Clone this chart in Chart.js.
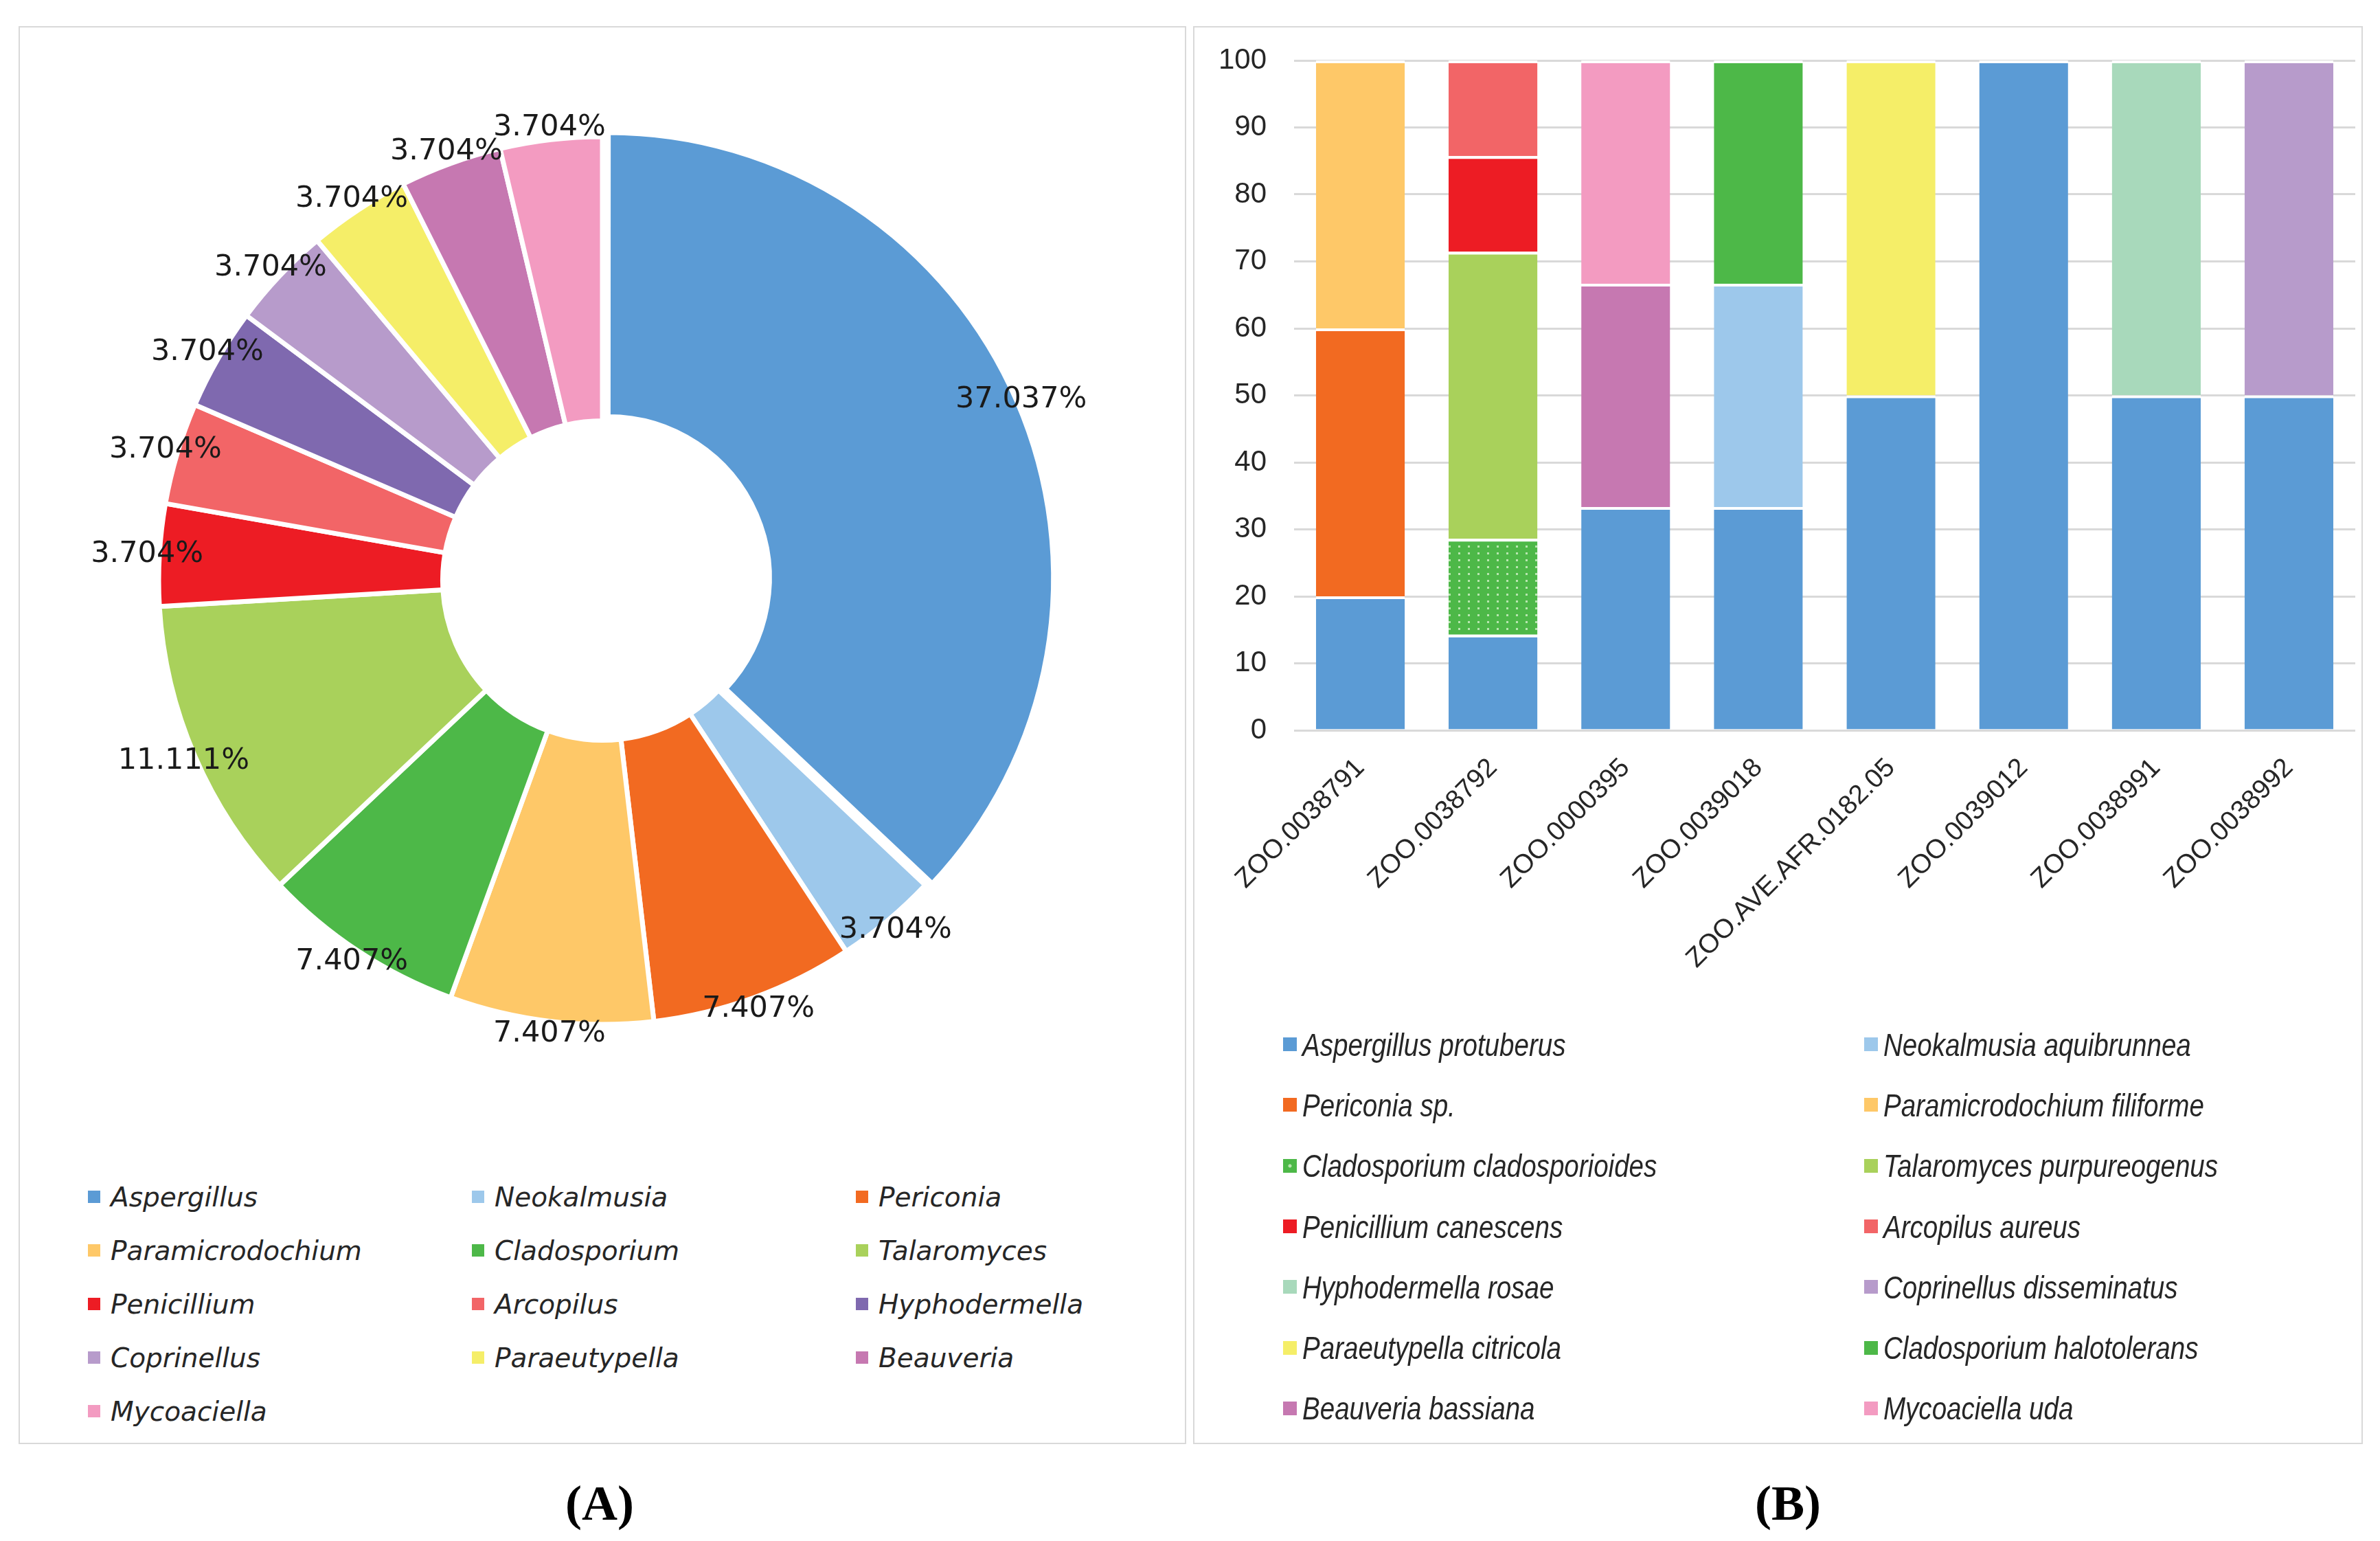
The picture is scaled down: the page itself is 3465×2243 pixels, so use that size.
<!DOCTYPE html>
<html lang="en">
<head>
  <meta charset="utf-8">
  <title>Fungal genera and species per sample</title>
  <script src="https://cdn.jsdelivr.net/npm/chart.js"></script>
  <style>
    body {
      margin: 0;
      width: 3465px;
      height: 2243px;
      background: #fff;
      position: relative;
      overflow: hidden;
      font-family: 'DejaVu Sans', sans-serif;
    }

    /* Panel frames */
    .panel {
      position: absolute;
      border: 2px solid #d9d9d9;
      box-sizing: border-box;
    }
    #panelA { left: 27px; top: 38px; width: 1700px; height: 2064px; }
    #panelB { left: 1737px; top: 38px; width: 1703px; height: 2064px; }

    canvas { position: absolute; }
    #pieChart { left: 57px; top: 65px; }
    #barChart { left: 1740px; top: 40px; }

    /* Legends */
    .legend { position: absolute; display: grid; }
    .legend .item { display: flex; align-items: center; white-space: nowrap; }
    .legend .swatch { display: inline-block; flex: none; }

    #legendA {
      left: 128px;
      top: 1703px;
      grid-template-columns: 559px 559px 559px;
      grid-auto-rows: 78px;
      font: italic 39px 'DejaVu Sans', sans-serif;
      color: #262626;
    }
    #legendA .swatch { width: 18px; height: 18px; margin-right: 15px; }

    #legendB {
      left: 1868px;
      top: 1476px;
      grid-template-columns: 846px 600px;
      grid-auto-rows: 88.3px;
      font: italic 47px 'Liberation Sans', sans-serif;
      color: #262626;
    }
    #legendB .swatch { width: 20px; height: 20px; margin-right: 8px; }
    /* the source legend uses a condensed face */
    #legendB .txt { display: inline-block; transform: scaleX(0.82); transform-origin: left center; }

    .caption {
      position: absolute;
      top: 2147px;
      line-height: 1;
      font: bold 72px 'Liberation Serif', serif;
      transform: translateX(-50%);
    }
  </style>
</head>
<body>
  <div class="panel" id="panelA"></div>
  <div class="panel" id="panelB"></div>

  <canvas id="pieChart" width="1640" height="1560"></canvas>
  <canvas id="barChart" width="1700" height="1440"></canvas>

  <div class="legend" id="legendA"></div>
  <div class="legend" id="legendB"></div>

  <div class="caption" style="left: 873px;">(A)</div>
  <div class="caption" style="left: 2603px;">(B)</div>

  <script>
    // ---- Panel A: genera (% of isolates) ----
    const genera = ['Aspergillus', 'Neokalmusia', 'Periconia', 'Paramicrodochium', 'Cladosporium',
      'Talaromyces', 'Penicillium', 'Arcopilus', 'Hyphodermella', 'Coprinellus', 'Paraeutypella',
      'Beauveria', 'Mycoaciella'];
    const generaShare = [37.037, 3.704, 7.407, 7.407, 7.407, 11.111, 3.704, 3.704, 3.704, 3.704, 3.704, 3.704, 3.704];
    const generaColors = ['#5B9BD5', '#9DC8EB', '#F26A21', '#FEC868', '#4DB848', '#A9D15B', '#ED1C24',
      '#F26567', '#7F69AF', '#B79BCB', '#F5EE68', '#C678B1', '#F39BC1'];

    // ---- Panel B: species per sample (%) ----
    const samples = ['ZOO.0038791', 'ZOO.0038792', 'ZOO.0000395', 'ZOO.0039018',
      'ZOO.AVE.AFR.0182.05', 'ZOO.0039012', 'ZOO.0038991', 'ZOO.0038992'];
    const yTicks = [0, 10, 20, 30, 40, 50, 60, 70, 80, 90, 100];

    const aspergillusProtuberus      = [20, 14.29, 33.33, 33.33, 50, 100, 50, 50];
    const neokalmusiaAquibrunnea     = [null, null, null, 33.33, null, null, null, null];
    const periconiaSp                = [40, null, null, null, null, null, null, null];
    const paramicrodochiumFiliforme  = [40, null, null, null, null, null, null, null];
    const cladosporiumCladosporioides = [null, 14.29, null, null, null, null, null, null];
    const talaromycesPurpureogenus   = [null, 42.86, null, null, null, null, null, null];
    const penicilliumCanescens       = [null, 14.28, null, null, null, null, null, null];
    const arcopilusAureus            = [null, 14.28, null, null, null, null, null, null];
    const hyphodermellaRosae         = [null, null, null, null, null, null, 50, null];
    const coprinellusDisseminatus    = [null, null, null, null, null, null, null, 50];
    const paraeutypellaCitricola     = [null, null, null, null, 50, null, null, null];
    const cladosporiumHalotolerans   = [null, null, null, 33.34, null, null, null, null];
    const beauveriaBassiana          = [null, null, 33.33, null, null, null, null, null];
    const mycoaciellaUda             = [null, null, 33.34, null, null, null, null, null];

    const species = ['Aspergillus protuberus', 'Neokalmusia aquibrunnea', 'Periconia sp.',
      'Paramicrodochium filiforme', 'Cladosporium cladosporioides', 'Talaromyces purpureogenus',
      'Penicillium canescens', 'Arcopilus aureus', 'Hyphodermella rosae', 'Coprinellus disseminatus',
      'Paraeutypella citricola', 'Cladosporium halotolerans', 'Beauveria bassiana', 'Mycoaciella uda'];
    const speciesValues = [aspergillusProtuberus, neokalmusiaAquibrunnea, periconiaSp,
      paramicrodochiumFiliforme, cladosporiumCladosporioides, talaromycesPurpureogenus,
      penicilliumCanescens, arcopilusAureus, hyphodermellaRosae, coprinellusDisseminatus,
      paraeutypellaCitricola, cladosporiumHalotolerans, beauveriaBassiana, mycoaciellaUda];
    const speciesColors = ['#5B9BD5', '#9DC8EB', '#F26A21', '#FEC868', '#4DB848', '#A9D15B',
      '#ED1C24', '#F26567', '#A8D9BB', '#B79BCB', '#F5EE68', '#4DB848', '#C678B1', '#F39BC1'];
    const dottedSpecies = 'Cladosporium cladosporioides';

    // dotted fill used for C. cladosporioides
    function dotPattern(base) {
      const c = document.createElement('canvas');
      c.width = 14; c.height = 10;
      const g = c.getContext('2d');
      g.fillStyle = base;
      g.fillRect(0, 0, 14, 10);
      g.fillStyle = '#b9e6b0';
      g.fillRect(5, 4, 3, 3);
      return g.createPattern(c, 'repeat');
    }

    // percentage labels around the ring
    const pieLabels = {
      id: 'pieLabels',
      afterDatasetsDraw(chart) {
        const ctx = chart.ctx;
        const meta = chart.getDatasetMeta(0);
        ctx.save();
        ctx.font = '43px "DejaVu Sans"';
        ctx.fillStyle = '#1a1a1a';
        ctx.textAlign = 'center';
        ctx.textBaseline = 'middle';
        meta.data.forEach((arc, i) => {
          const mid = (arc.startAngle + arc.endAngle) / 2;
          const r = arc.outerRadius + 18;
          ctx.fillText(generaShare[i].toFixed(3) + '%', arc.x + Math.cos(mid) * r, arc.y + Math.sin(mid) * r);
        });
        ctx.restore();
      }
    };

    new Chart(document.getElementById('pieChart'), {
      type: 'doughnut',
      data: {
        labels: genera,
        datasets: [{
          data: generaShare,
          backgroundColor: generaColors,
          borderColor: '#ffffff',
          borderWidth: 7,
          offset: ctx => ctx.dataIndex === 0 ? 36 : 0
        }]
      },
      options: {
        responsive: false,
        animation: false,
        radius: 646,
        cutout: '36%',
        plugins: { legend: { display: false }, tooltip: { enabled: false } }
      },
      plugins: [pieLabels]
    });

    const tickFont = "'Liberation Sans', 'DejaVu Sans', sans-serif";

    new Chart(document.getElementById('barChart'), {
      type: 'bar',
      data: {
        labels: samples,
        datasets: species.map((name, i) => ({
          label: name,
          data: speciesValues[i],
          backgroundColor: name === dottedSpecies ? dotPattern(speciesColors[i]) : speciesColors[i],
          borderColor: '#ffffff',
          borderWidth: { top: 4, left: 0, right: 0, bottom: 0 },
          barPercentage: 0.67,
          categoryPercentage: 1
        }))
      },
      options: {
        responsive: false,
        animation: false,
        layout: { padding: { top: 48, right: 11, left: 0, bottom: 0 } },
        plugins: { legend: { display: false }, tooltip: { enabled: false } },
        scales: {
          x: {
            stacked: true,
            grid: { display: false, drawTicks: false },
            border: { display: false },
            ticks: {
              minRotation: 45,
              maxRotation: 45,
              padding: 32,
              color: '#262626',
              font: { family: tickFont, size: 39 }
            },
            afterFit: s => { s.height = 417; }
          },
          y: {
            stacked: true,
            min: 0,
            max: 100,
            afterBuildTicks: s => { s.ticks = yTicks.map(v => ({ value: v })); },
            ticks: { padding: 40, color: '#262626', font: { family: tickFont, size: 42 } },
            grid: { color: '#d9d9d9', lineWidth: 3, drawTicks: false },
            border: { display: false },
            // fixed width; tick padding must not push the plot area down
            afterFit: s => { s.width = 144; s.paddingTop = 0; s.paddingBottom = 0; }
          }
        }
      }
    });

    // HTML legends laid out in columns
    function buildLegend(id, names, colors) {
      const box = document.getElementById(id);
      names.forEach((name, i) => {
        const item = document.createElement('div');
        item.className = 'item';
        const sw = document.createElement('span');
        sw.className = 'swatch';
        sw.style.background = colors[i];
        if (name === dottedSpecies) {
          sw.style.background = 'radial-gradient(circle, #b9e6b0 0 2px, ' + colors[i] + ' 3px)';
        }
        const txt = document.createElement('span');
        txt.className = 'txt';
        txt.textContent = name;
        item.appendChild(sw);
        item.appendChild(txt);
        box.appendChild(item);
      });
    }
    buildLegend('legendA', genera, generaColors);
    buildLegend('legendB', species, speciesColors);
  </script>
</body>
</html>
